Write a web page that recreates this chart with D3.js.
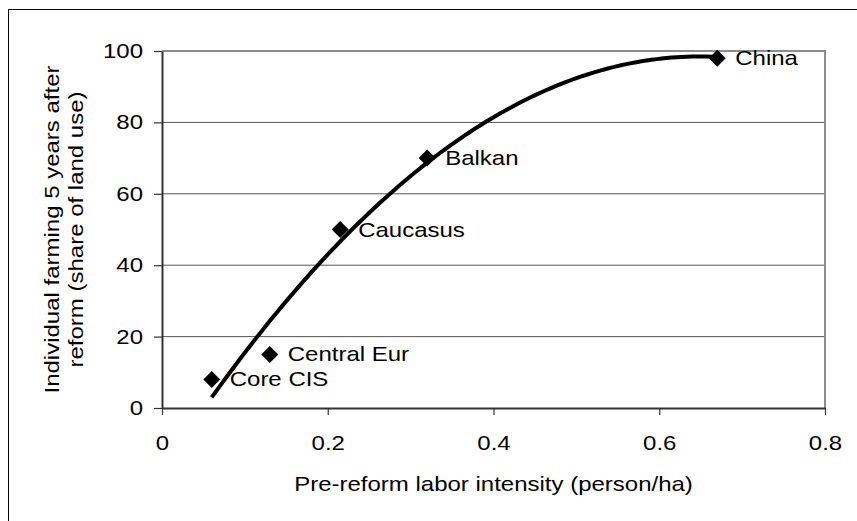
<!DOCTYPE html>
<html>
<head>
<meta charset="utf-8">
<script src="https://cdn.jsdelivr.net/npm/d3@7"></script>
<style>
  body { margin: 0; background: #fff; }
  text { font-family: "Liberation Sans", Arial, sans-serif; fill: #000; }
</style>
</head>
<body>
<svg id="chart"></svg>
<script>
// regions and their values
const regions = ['Core CIS', 'Central Eur', 'Caucasus', 'Balkan', 'China'];
const laborIntensity = [0.06, 0.13, 0.215, 0.32, 0.67];
const individualShare = [8, 15, 50, 70, 98];

const xTicks = [0, 0.2, 0.4, 0.6, 0.8];
const yTicks = [0, 20, 40, 60, 80, 100];

const data = regions.map((r, i) => ({name: r, x: laborIntensity[i], y: individualShare[i]}));

const W = 857, H = 521;
const margin = {top: 51, right: 32, bottom: 113, left: 162};
const width = W - margin.left - margin.right;
const height = H - margin.top - margin.bottom;
const STRETCH = 1.2;

// text in the reference is drawn wider than Arial: stretch it horizontally around its anchor
function widen(sel) {
  sel.each(function() {
    const t = d3.select(this);
    const x = +t.attr('x') || 0, y = +t.attr('y') || 0;
    const prev = t.attr('transform') || '';
    t.attr('x', 0).attr('y', 0)
     .attr('transform', `${prev} translate(${x},${y}) scale(${STRETCH},1)`);
  });
}

// second order least squares trend line (like a spreadsheet polynomial trendline)
function polyFit2(xs, ys) {
  let s = [0, 0, 0, 0, 0], t = [0, 0, 0];
  xs.forEach((x, i) => {
    for (let k = 0; k < 5; k++) s[k] += Math.pow(x, k);
    for (let k = 0; k < 3; k++) t[k] += Math.pow(x, k) * ys[i];
  });
  const A = [[s[0], s[1], s[2], t[0]], [s[1], s[2], s[3], t[1]], [s[2], s[3], s[4], t[2]]];
  for (let i = 0; i < 3; i++) {
    for (let j = i + 1; j < 3; j++) {
      const f = A[j][i] / A[i][i];
      for (let k = i; k < 4; k++) A[j][k] -= f * A[i][k];
    }
  }
  const c = [0, 0, 0];
  for (let i = 2; i >= 0; i--) {
    let v = A[i][3];
    for (let k = i + 1; k < 3; k++) v -= A[i][k] * c[k];
    c[i] = v / A[i][i];
  }
  return x => c[0] + c[1] * x + c[2] * x * x;
}

const svg = d3.select('#chart').attr('width', W).attr('height', H);
svg.append('rect').attr('width', W).attr('height', H).attr('fill', '#fff');

// outer frame
svg.append('rect')
    .attr('x', 8.5).attr('y', 9.5)
    .attr('width', 900).attr('height', 600)
    .attr('fill', 'none').attr('stroke', '#000').attr('stroke-width', 1);

const chart = svg.append('g').attr('transform', `translate(${margin.left},${margin.top})`);

const xScale = d3.scaleLinear().domain([0, 0.8]).range([0, width]);
const yScale = d3.scaleLinear().domain([0, 100]).range([height, 0]);

// gridlines
chart.selectAll('.grid')
    .data(yTicks.filter(d => d > 0 && d < 100))
  .join('line')
    .attr('class', 'grid')
    .attr('x1', 0).attr('x2', width)
    .attr('y1', d => yScale(d)).attr('y2', d => yScale(d))
    .attr('stroke', '#555').attr('stroke-width', 1);

// plot area border (top and right)
chart.append('path')
    .attr('d', `M0,${yScale(100)}H${width}V${height}`)
    .attr('fill', 'none').attr('stroke', '#8c8c8c').attr('stroke-width', 2);

const xAxis = d3.axisBottom(xScale).tickValues(xTicks).tickSize(7).tickSizeOuter(0)
    .tickPadding(21).tickFormat(d3.format('~g'));
const yAxis = d3.axisLeft(yScale).tickValues(yTicks).tickSize(8).tickSizeOuter(0)
    .tickPadding(11);

const xAxisG = chart.append('g').attr('transform', `translate(0,${height})`).call(xAxis);
const yAxisG = chart.append('g').call(yAxis);

[xAxisG, yAxisG].forEach(g => {
  g.select('.domain').attr('stroke', '#333').attr('stroke-width', 2);
  g.selectAll('.tick line').attr('stroke', '#333').attr('stroke-width', 1.2);
  g.selectAll('.tick text')
      .attr('font-family', '"Liberation Sans", Arial, sans-serif')
      .attr('font-size', 20).attr('fill', '#000')
      .call(widen);
});

// trend line
const fit = polyFit2(laborIntensity, individualShare);
const xMin = d3.min(laborIntensity), xMax = d3.max(laborIntensity);
const curvePts = d3.range(0, 101).map(i => {
  const x = xMin + (xMax - xMin) * i / 100;
  return [x, fit(x)];
});
chart.append('path')
    .datum(curvePts)
    .attr('fill', 'none').attr('stroke', '#000').attr('stroke-width', 4)
    .attr('d', d3.line().x(d => xScale(d[0])).y(d => yScale(d[1])));

// markers
const diamond = d3.symbol(d3.symbolSquare, 144);
chart.selectAll('.marker')
    .data(data)
  .join('path')
    .attr('class', 'marker')
    .attr('d', diamond)
    .attr('transform', d => `translate(${xScale(d.x)},${yScale(d.y)}) rotate(45)`)
    .attr('fill', '#000');

// labels
chart.selectAll('.label')
    .data(data)
  .join('text')
    .attr('class', 'label')
    .attr('x', d => xScale(d.x) + 18)
    .attr('y', d => yScale(d.y) + 7)
    .attr('font-size', 20)
    .text(d => d.name)
    .call(widen);

// axis titles
svg.append('text')
    .attr('x', margin.left + width / 2).attr('y', 490.5)
    .attr('text-anchor', 'middle').attr('font-size', 20)
    .text('Pre-reform labor intensity (person/ha)')
    .call(widen);

const yTitle = svg.append('text')
    .attr('transform', `translate(59,${margin.top + height / 2}) rotate(-90) scale(${STRETCH},1)`)
    .attr('text-anchor', 'middle').attr('font-size', 20);
yTitle.append('tspan').attr('x', 0).attr('y', 0).text('Individual farming 5 years after');
yTitle.append('tspan').attr('x', 0).attr('y', 24).text('reform (share of land use)');
</script>
</body>
</html>
